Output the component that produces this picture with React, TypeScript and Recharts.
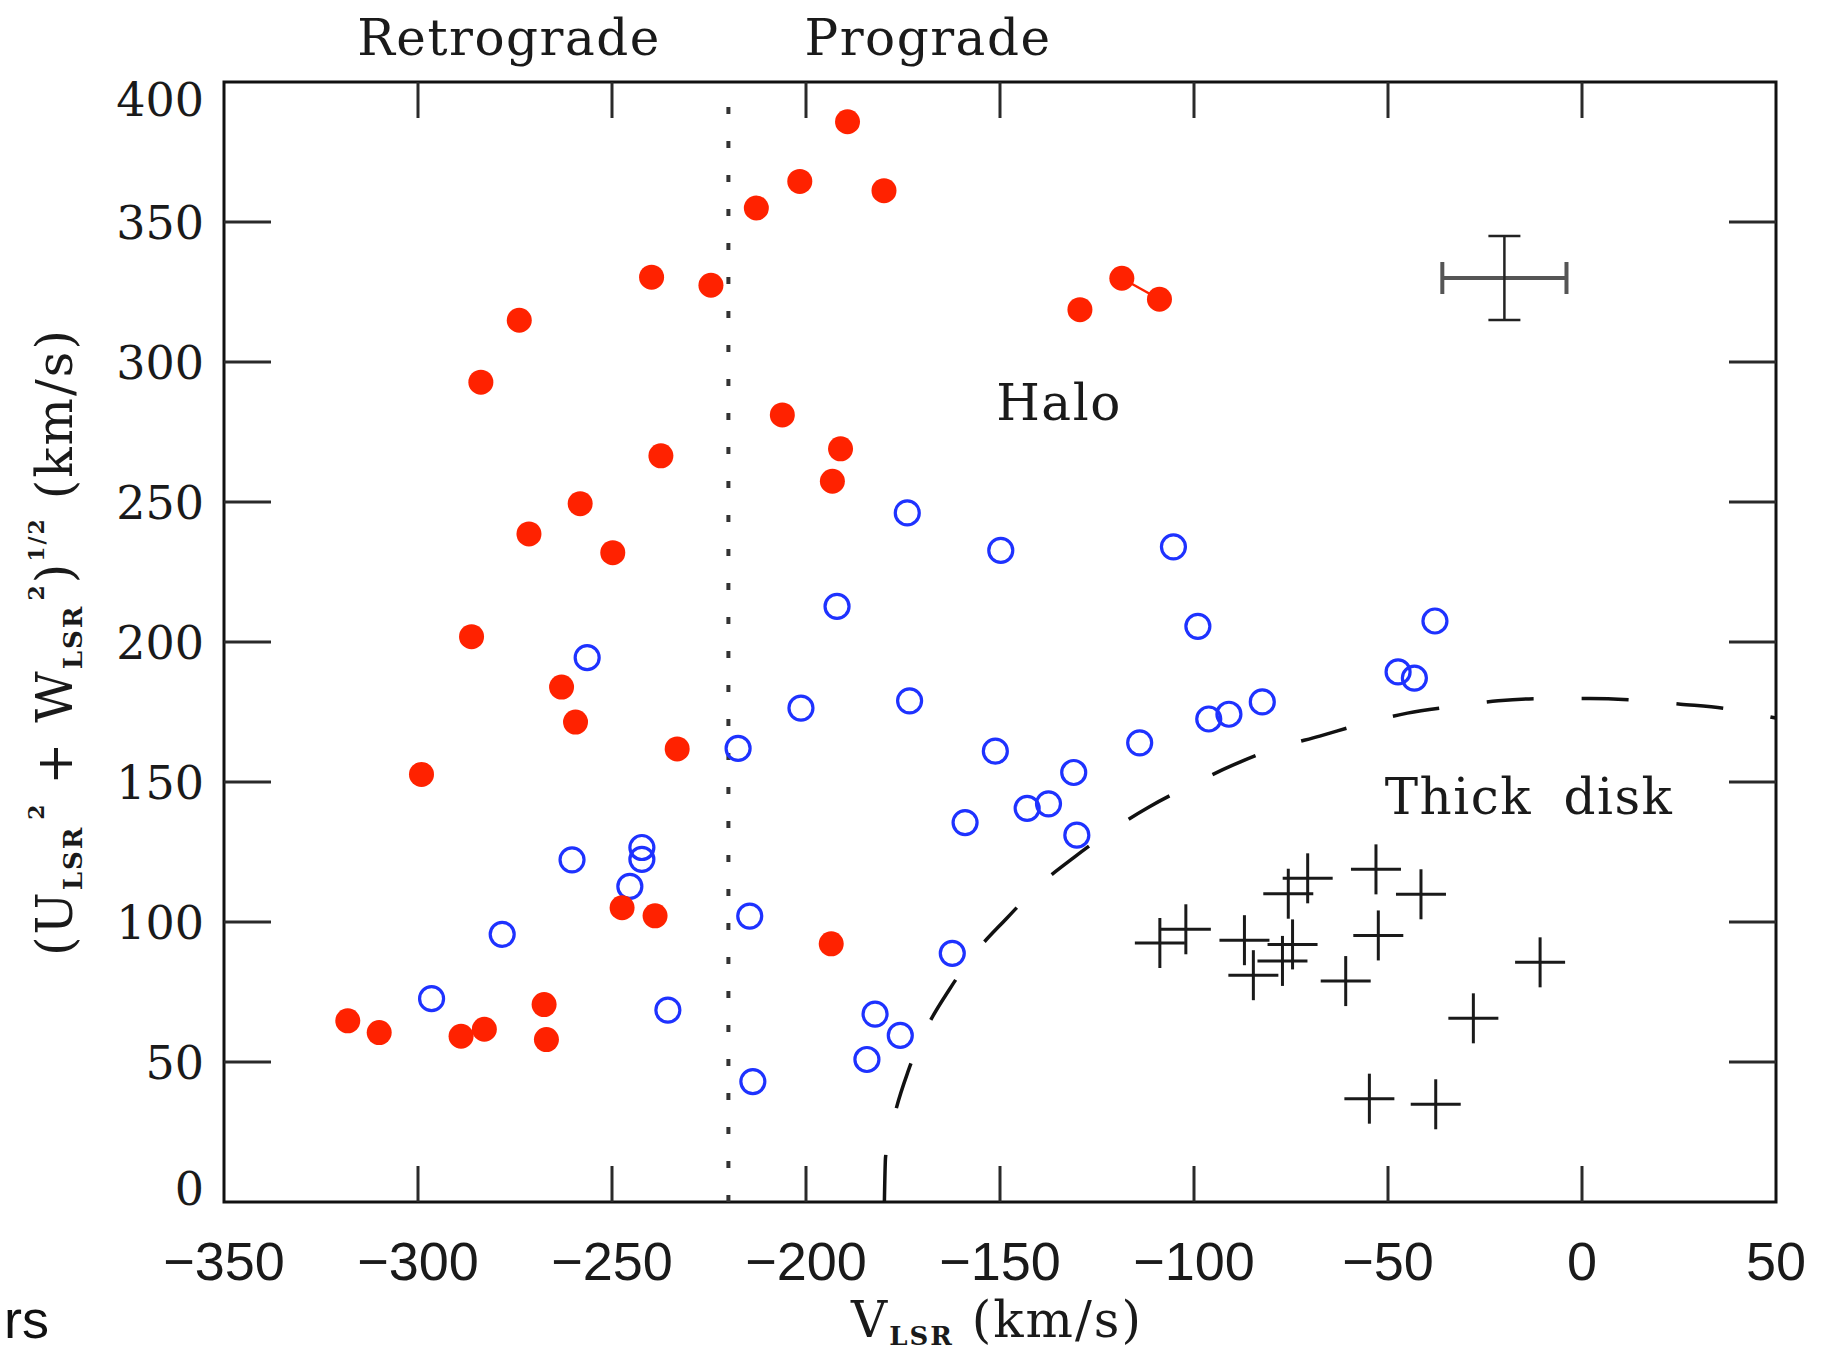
import React from "react";
import {
  ScatterChart,
  Scatter,
  XAxis,
  YAxis,
  ReferenceLine,
  ReferenceArea,
  ErrorBar,
} from "recharts";

const W = 1831;
const H = 1355;
// plot box in page pixels (frame of the figure)
const PLOT = { left: 224, right: 1776, top: 82, bottom: 1202 };

const RED = "#ff2200";
const BLUE = "#1e32ff";
const INK = "#1a1a1a";
const TICK = "#2a2a2a";
const SERIF = "'DejaVu Serif', 'Liberation Serif', serif";
const SANS = "'Liberation Sans', Arial, sans-serif";

const xTicks = [-350, -300, -250, -200, -150, -100, -50, 0, 50];
const yTicks = [0, 50, 100, 150, 200, 250, 300, 350, 400];

// V_LSR vs sqrt(U^2 + W^2), both km/s
const haloRed: [number, number][] = [
  [-189.3, 385.8], [-201.6, 364.5], [-179.9, 361.2], [-212.8, 355],
  [-239.8, 330.3], [-224.5, 327.4], [-273.9, 314.9], [-283.8, 292.8],
  [-129.4, 318.7], [-206.1, 281.1], [-191.1, 269], [-193.2, 257.4],
  [-237.4, 266.5], [-258.2, 249.4], [-271.4, 238.6], [-249.8, 231.9],
  [-286.2, 201.9], [-263, 183.9], [-259.4, 171.4], [-233.2, 161.8],
  [-299.1, 152.7], [-247.4, 105.1], [-238.9, 102.2], [-193.5, 92.2],
  [-318.1, 64.7], [-310, 60.5], [-288.9, 59.2], [-282.9, 61.7],
  [-267.5, 70.5], [-266.9, 58],
];

// the two red stars joined by a short line
const haloRedPair: [number, number][] = [
  [-118.6, 329.9], [-108.9, 322.4],
];

const haloBlue: [number, number][] = [
  [-173.9, 246.1], [-149.8, 232.7], [-105.3, 234], [-99, 205.6],
  [-37.9, 207.5], [-192, 212.7], [-256.4, 194.4], [-201.3, 176.4],
  [-173.3, 179], [-217.5, 162], [-151.2, 161], [-114, 164],
  [-96.2, 172.5], [-91, 174.2], [-82.4, 178.6], [-47.4, 189.3],
  [-43.2, 187.1], [-131, 153.4], [-143, 140.6], [-137.5, 142.2],
  [-159, 135.5], [-130.2, 131], [-242.3, 126.6], [-242.3, 122.4],
  [-260.3, 122.2], [-245.4, 112.7], [-278.3, 95.6], [-296.5, 72.6],
  [-214.5, 102.1], [-235.6, 68.5], [-162.3, 88.8], [-182.2, 67.1],
  [-175.7, 59.5], [-184.3, 50.9], [-213.7, 43],
];

const thickDisk: [number, number][] = [
  [-108.8, 92.5], [-102.1, 97.4], [-87, 93.5], [-84.7, 81],
  [-74.6, 92], [-77.2, 86.1], [-75.7, 110.1], [-70.7, 115.6],
  [-53.1, 118.8], [-41.5, 109.9], [-52.5, 95.2], [-60.9, 78.9],
  [-54.8, 36.9], [-37.7, 34.9], [-10.8, 85.6], [-28, 65.6],
];

// dashed halo / thick-disk boundary
const boundary: [number, number][] = [
  [-179.8, 0], [-179.5, 16], [-177, 32], [-173.6, 47], [-168.6, 63],
  [-163, 76], [-155.8, 90], [-148.5, 101], [-140, 113], [-131, 123],
  [-121, 133], [-111.7, 141], [-100.6, 149], [-90, 156], [-79, 162],
  [-67.6, 166.4], [-56, 171], [-45, 174.6], [-33, 177], [-21.6, 179],
  [-10, 179.8], [2, 179.8], [14, 179.2], [25.4, 177.8], [37.3, 176.2],
  [50, 172.8],
];

// typical error bar
const sampleErr = [{ x: -20, y: 330, ex: 16, ey: 15 }];

const retroLimit = -220;

const toPts = (a: [number, number][]) => a.map(([x, y]) => ({ x, y }));

const RedDot = (p: any) => <circle cx={p.cx} cy={p.cy} r={12.5} fill={RED} />;
const BlueRing = (p: any) => (
  <circle cx={p.cx} cy={p.cy} r={12} fill="none" stroke={BLUE} strokeWidth={3.2} />
);
const Cross = (p: any) => (
  <g stroke={INK} strokeWidth={3}>
    <line x1={p.cx - 25} x2={p.cx + 25} y1={p.cy} y2={p.cy} />
    <line x1={p.cx} x2={p.cx} y1={p.cy - 25} y2={p.cy + 25} />
  </g>
);
const Nothing = () => <g />;

function XTick(props: any) {
  const { x, payload } = props;
  const v = payload.value as number;
  const inner = v > -350 && v < 50;
  const label = v < 0 ? `\u2212${Math.abs(v)}` : `${v}`;
  return (
    <g>
      {inner && (
        <g stroke={TICK} strokeWidth={3}>
          <line x1={x} x2={x} y1={PLOT.bottom} y2={PLOT.bottom - 36} />
          <line x1={x} x2={x} y1={PLOT.top} y2={PLOT.top + 36} />
        </g>
      )}
      <text x={x} y={PLOT.bottom + 78} textAnchor="middle" fontFamily={SANS} fontSize={54} fill={INK}>
        {label}
      </text>
    </g>
  );
}

function YTick(props: any) {
  const { y, payload } = props;
  const v = payload.value as number;
  const inner = v > 0 && v < 400;
  const shift = v === 400 ? 17 : v === 0 ? -14 : 0;
  return (
    <g>
      {inner && (
        <g stroke={TICK} strokeWidth={3}>
          <line x1={PLOT.left} x2={PLOT.left + 47} y1={y} y2={y} />
          <line x1={PLOT.right} x2={PLOT.right - 47} y1={y} y2={y} />
        </g>
      )}
      <text x={PLOT.left - 20} y={y + shift + 17} textAnchor="end" fontFamily={SERIF} fontSize={46} fill={INK}>
        {v}
      </text>
    </g>
  );
}

export default function App() {
  return (
    <div style={{ position: "absolute", left: 0, top: 0, width: W, height: H, background: "#fff" }}>
      <ScatterChart
        width={W}
        height={H}
        margin={{ top: PLOT.top, right: W - PLOT.right, bottom: H - PLOT.bottom - 80, left: PLOT.left - 100 }}
      >
        <XAxis
          type="number"
          dataKey="x"
          domain={[-350, 50]}
          ticks={xTicks}
          interval={0}
          allowDataOverflow
          height={80}
          tickSize={0}
          tickLine={false}
          axisLine={false}
          tick={XTick}
        />
        <YAxis
          type="number"
          dataKey="y"
          domain={[0, 400]}
          ticks={yTicks}
          interval={0}
          allowDataOverflow
          width={100}
          tickSize={0}
          tickLine={false}
          axisLine={false}
          tick={YTick}
        />
        <ReferenceLine x={retroLimit} stroke="#333" strokeWidth={4} strokeDasharray="7 27" />
        <Scatter
          data={toPts(boundary)}
          fill="none"
          line={{ stroke: "#111", strokeWidth: 3.5, strokeDasharray: "47 48" }}
          lineJointType="monotoneX"
          shape={Nothing}
          isAnimationActive={false}
        />
        <Scatter data={toPts(thickDisk)} shape={Cross} isAnimationActive={false} />
        <Scatter data={toPts(haloBlue)} shape={BlueRing} isAnimationActive={false} />
        <Scatter data={toPts(haloRed)} shape={RedDot} isAnimationActive={false} />
        <Scatter
          data={toPts(haloRedPair)}
          fill={RED}
          line={{ stroke: RED, strokeWidth: 2.5 }}
          shape={RedDot}
          isAnimationActive={false}
        />
        <Scatter data={sampleErr} shape={Nothing} isAnimationActive={false}>
          <ErrorBar dataKey="ex" direction="x" width={16} stroke="#555" strokeWidth={4} />
          <ErrorBar dataKey="ey" direction="y" width={16} stroke="#222" strokeWidth={2.5} />
        </Scatter>
        <ReferenceArea
          x1={-350}
          x2={50}
          y1={0}
          y2={400}
          fill="none"
          fillOpacity={0}
          stroke="#111"
          strokeWidth={3}
          ifOverflow="visible"
        />
      </ScatterChart>

      <svg
        width={W}
        height={H}
        style={{ position: "absolute", left: 0, top: 0, pointerEvents: "none" }}
      >
        <g fontFamily={SERIF} fill={INK} fontSize={50}>
          <text x={509} y={55} textAnchor="middle" letterSpacing={1.5}>Retrograde</text>
          <text x={928} y={55} textAnchor="middle" letterSpacing={1.5}>Prograde</text>
          <text x={1059} y={420} textAnchor="middle" letterSpacing={1.5}>Halo</text>
          <text x={1529} y={814} textAnchor="middle" letterSpacing={1.5} wordSpacing={14}>Thick disk</text>
          <text x={997} y={1337} textAnchor="middle" letterSpacing={2}>
            V<tspan fontSize={26} fontWeight="bold" dy={8}>LSR</tspan>
            <tspan dy={-8}> (km/s)</tspan>
          </text>
          <text transform="translate(72 642) rotate(-90)" textAnchor="middle" letterSpacing={2}>
            (U<tspan fontSize={26} fontWeight="bold" dy={10}>LSR</tspan>
            <tspan fontSize={22} fontWeight="bold" dy={-38} dx={6}>2</tspan>
            <tspan dy={28}> + W</tspan>
            <tspan fontSize={26} fontWeight="bold" dy={10}>LSR</tspan>
            <tspan fontSize={22} fontWeight="bold" dy={-38} dx={4}>2</tspan>
            <tspan dy={28}>)</tspan>
            <tspan fontSize={22} fontWeight="bold" dy={-28}>1/2</tspan>
            <tspan dy={28}> (km/s)</tspan>
          </text>
        </g>
        <text x={4} y={1338} fontFamily={SANS} fontSize={54} fill="#111">rs</text>
      </svg>
    </div>
  );
}
